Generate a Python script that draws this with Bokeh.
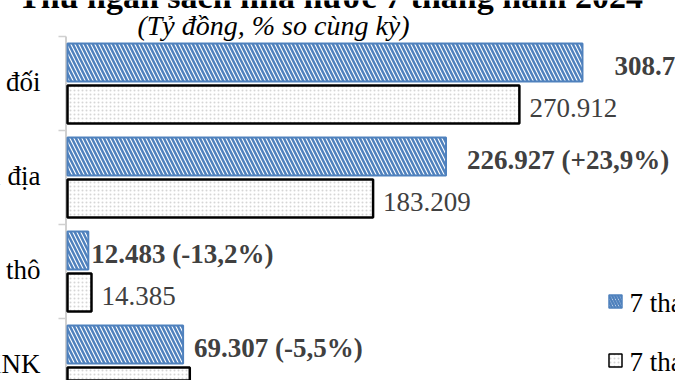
from bokeh.plotting import figure
from bokeh.models import Range1d, ColumnDataSource
from bokeh.core.properties import value
from bokeh.embed import file_html
from bokeh.resources import INLINE

# ---- data ----
categories = ["Tổng thu cân đối", "Thu nội địa", "Thu từ dầu thô", "Thu cân đối từ hoạt động XNK"]
val_2024 = [308.745, 226.927, 12.483, 69.307]
val_2023 = [270.912, 183.209, 14.385, 73.314]
label_2024 = ["308.745 (+14,0%)", "226.927 (+23,9%)", "12.483 (-13,2%)", "69.307 (-5,5%)"]
label_2023 = ["270.912", "183.209", "14.385", "73.314"]
series_names = ["7 tháng năm 2024", "7 tháng năm 2023"]
title_text = "Thu ngân sách nhà nước 7 tháng năm 2024"
subtitle_text = "(Tỷ đồng, % so cùng kỳ)"

# ---- styling ----
label_gap_2024 = [32, 21, 3, 11]   # px gap between bar end and bold label
BLUE = "#4F81BD"
FONT = value("Times New Roman")

W, H = 675, 380
PXU = 1.668          # pixels per data unit (x)
X0 = 67              # canvas px where value 0 sits
CAT = 94.0           # px per category
Y0 = 83              # canvas px of first category centre


def dx(px):
    return (px - X0) / PXU


def dy(py):
    return (py - Y0) / CAT


n = len(categories)
idx = list(range(n))
off = 21.0 / CAT
bh = 38.0 / CAT

src = ColumnDataSource(dict(
    cat=categories,
    yc=idx,
    y24=[i - off for i in idx],
    y23=[i + off for i in idx],
    v24=val_2024,
    v23=val_2023,
    l24=label_2024,
    l23=label_2023,
    g24=label_gap_2024,
))

p = figure(width=W, height=H, x_range=Range1d(dx(0), dx(W)),
           y_range=Range1d(dy(H), dy(0)), output_backend="svg",
           toolbar_location=None, min_border=0,
           x_axis_location=None, y_axis_location=None)
p.grid.visible = False
p.outline_line_color = None
p.background_fill_color = "white"

# category axis line and ticks
p.segment(x0=[dx(65.5)], y0=[-0.5], x1=[dx(65.5)], y1=[n], line_color="#d0d0d0", line_width=2)
p.segment(x0=[dx(58)] * (n + 1), y0=[i - 0.5 for i in range(n + 1)],
          x1=[dx(65.5)] * (n + 1), y1=[i - 0.5 for i in range(n + 1)],
          line_color="#d0d0d0", line_width=1.5)

# bars
p.hbar(y="y24", left=0, right="v24", height=bh, source=src,
       fill_color="white", line_color=BLUE, line_width=2,
       hatch_pattern="\\", hatch_color=BLUE, hatch_scale=8, hatch_weight=2.5)
p.hbar(y="y23", left=0, right="v23", height=bh, source=src,
       fill_color="white", line_color="black", line_width=2.5,
       hatch_pattern=".", hatch_color="#d6d6d6", hatch_scale=4, hatch_weight=1)

# value labels
p.text(x="v24", y="y24", text="l24", source=src, x_offset="g24", y_offset=3,
       text_font=FONT, text_font_size="27px", text_font_style="bold",
       text_color="#404040", text_align="left", text_baseline="middle")
p.text(x="v23", y="y23", text="l23", source=src, x_offset=10, y_offset=3,
       text_font=FONT, text_font_size="27px",
       text_color="#404040", text_align="left", text_baseline="middle")

# category labels
p.text(x=0, y="yc", text="cat", source=src, x_offset=-27, y_offset=-2,
       text_font=FONT, text_font_size="27px", text_color="black",
       text_align="right", text_baseline="middle")

# titles
p.text(x=[dx(273)], y=[dy(25)], text=[subtitle_text],
       text_font=FONT, text_font_size="28px", text_font_style="italic",
       text_color="black", text_align="center", text_baseline="middle")
p.text(x=[dx(330)], y=[dy(-4)], text=[title_text],
       text_font=FONT, text_font_size="34px", text_font_style="bold",
       text_color="black", text_align="center", text_baseline="alphabetic")

# legend
lx = dx(615)
ly = [dy(301), dy(360)]
p.scatter(x=[lx], y=[ly[0]], marker="square", size=13, fill_color="white",
          line_color=BLUE, line_width=1.5, hatch_pattern="\\", hatch_color=BLUE,
          hatch_scale=6, hatch_weight=2.5)
p.scatter(x=[lx], y=[ly[1]], marker="square", size=13, fill_color="white",
          line_color="black", line_width=1.5, hatch_pattern=".", hatch_color="#d6d6d6",
          hatch_scale=4, hatch_weight=1)
p.text(x=[lx] * 2, y=ly, text=series_names, x_offset=14, y_offset=1,
       text_font=FONT, text_font_size="27px", text_color="black",
       text_align="left", text_baseline="middle")

open("out.html", "w").write(file_html(p, INLINE))
